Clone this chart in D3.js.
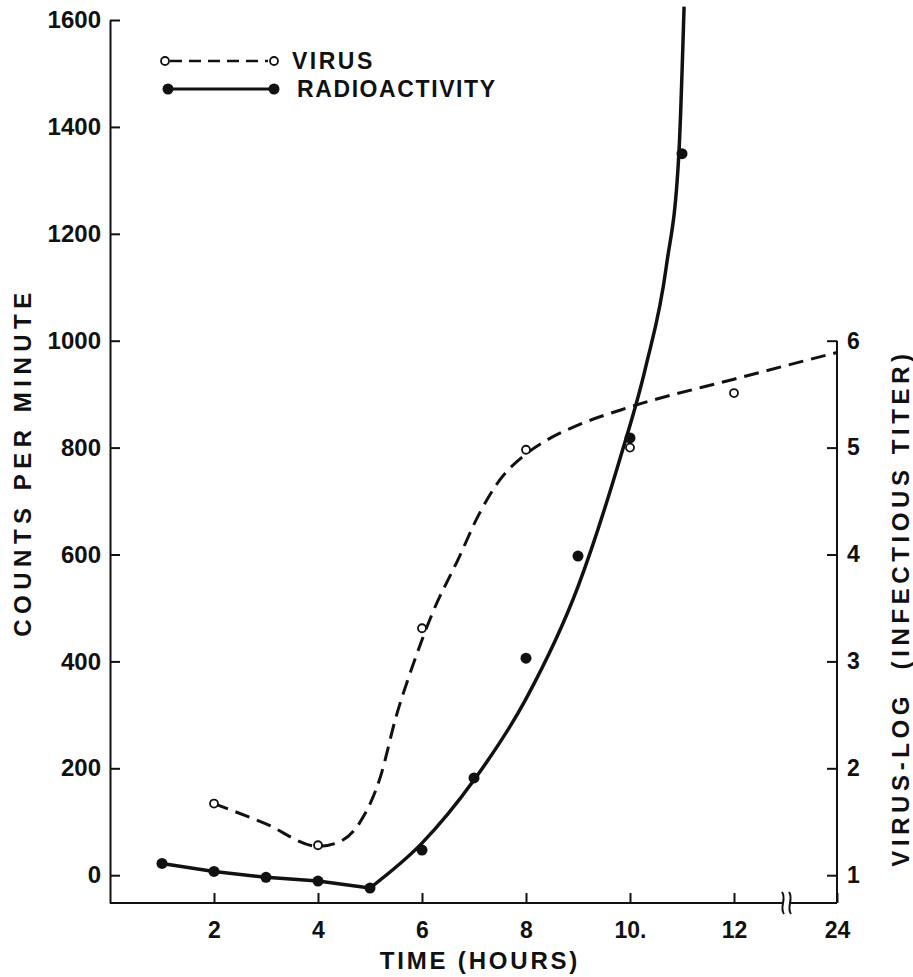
<!DOCTYPE html>
<html lang="en">
<head>
<meta charset="UTF-8">
<title>Virus and radioactivity</title>
<script src="https://d3js.org/d3.v7.min.js"></script>
<style>
    body { margin: 0; background: #fff; }
    svg { display: block; }
    text { font-family: "Liberation Sans", Arial, sans-serif; font-weight: bold; fill: #111; }
    .axis text { font-size: 23px; }
    .axis path, .axis line { stroke: #111; stroke-width: 2; }
</style>
</head>
<body>
<div id="chart"></div>
<script>
    // radioactivity, filled points
    const radioHours = [1, 2, 3, 4, 5, 6, 7, 8, 9, 10, 11];
    const radioCounts = [22, 7, -4, -11, -24, 47, 182, 406, 597, 818, 1350];

    // hand drawn fit through the radioactivity points
    const radioLineHours = [1, 2, 3, 4, 5];
    const radioLineCounts = [22, 7, -4, -11, -24];
    const radioFitHours = [5, 6, 7, 8, 9, 9.8, 10.3, 10.7, 10.94, 11.04];
    const radioFitCounts = [-24, 60, 178, 330, 540, 777, 950, 1140, 1350, 1625];

    // virus, open points (log titer)
    const virusHours = [2, 4, 6, 8, 10, 12];
    const virusLog = [1.67, 1.28, 3.31, 4.98, 5.0, 5.51];

    // dashed fit through the virus points
    const virusFitHours = [2, 3, 4, 4.4, 4.8, 5.2, 5.5, 5.85, 6.2, 6.7, 7.1, 7.5, 7.95, 8.4, 9, 10, 12, 24];
    const virusFitLog = [1.67, 1.48, 1.27, 1.31, 1.49, 1.92, 2.48, 3.0, 3.45, 3.96, 4.38, 4.7, 4.92, 5.07, 5.21, 5.38, 5.64, 5.89];

    // axes
    const xTicks = [2, 4, 6, 8, 10, 12, 24];
    const xTickLabels = ["2", "4", "6", "8", "10.", "12", "24"];
    const countTicks = [0, 200, 400, 600, 800, 1000, 1200, 1400, 1600];
    const logTicks = [1, 2, 3, 4, 5, 6];

    const width = 913, height = 977;

    // hours 13..24 are squeezed behind the axis break
    const x = d3.scaleLinear().domain([0, 13, 24]).range([110, 786, 837]);
    const y = d3.scaleLinear().domain([-52, 1600]).range([903, 20]);
    const yLog = d3.scaleLinear().domain([1, 6]).range([y(0), y(1000)]);

    const svg = d3.select("#chart").append("svg")
        .attr("width", width)
        .attr("height", height);

    svg.append("rect").attr("width", width).attr("height", height).attr("fill", "#fff");

    // left axis, ticks point inward
    svg.append("g")
        .attr("class", "axis")
        .attr("transform", `translate(${x(0)},0)`)
        .call(d3.axisLeft(y).tickValues(countTicks).tickFormat(d3.format("d"))
            .tickSizeInner(-10).tickSizeOuter(0).tickPadding(9))
        .call(g => g.selectAll("text").style("font-size", "24px"));

    // right axis
    svg.append("g")
        .attr("class", "axis")
        .attr("transform", `translate(${x(24)},0)`)
        .call(d3.axisRight(yLog).tickValues(logTicks).tickFormat(d3.format("d"))
            .tickSizeInner(-10).tickSizeOuter(0).tickPadding(10))
        .call(g => g.select(".domain").remove());
    svg.append("line")
        .attr("x1", x(24)).attr("x2", x(24))
        .attr("y1", y.range()[0]).attr("y2", yLog(6))
        .attr("stroke", "#111").attr("stroke-width", 2);

    // bottom axis with a break before 24
    svg.append("g")
        .attr("class", "axis")
        .attr("transform", `translate(0,${y.range()[0]})`)
        .call(d3.axisBottom(x).tickValues(xTicks).tickSizeInner(-10).tickSizeOuter(0).tickPadding(19)
            .tickFormat((d, i) => xTickLabels[i]))
        .call(g => g.select(".domain").remove());

    const y0 = y.range()[0];
    const brk = x(13);
    svg.append("line")
        .attr("x1", x(0)).attr("x2", brk - 3)
        .attr("y1", y0).attr("y2", y0)
        .attr("stroke", "#111").attr("stroke-width", 2);
    svg.append("line")
        .attr("x1", brk + 5).attr("x2", x(24))
        .attr("y1", y0).attr("y2", y0)
        .attr("stroke", "#111").attr("stroke-width", 2);
    [brk - 3, brk + 4].forEach(bx => {
        svg.append("path")
            .attr("d", `M${bx - 1},${y0 - 11} C${bx + 4},${y0 - 4} ${bx - 4},${y0 + 4} ${bx + 1},${y0 + 11}`)
            .attr("fill", "none").attr("stroke", "#111").attr("stroke-width", 2);
    });

    // lines
    const countLine = d3.line().x(d => x(d[0])).y(d => y(d[1]));
    const fitLine = d3.line().x(d => x(d[0])).y(d => y(d[1])).curve(d3.curveMonotoneX);
    const virusLine = d3.line().x(d => x(d[0])).y(d => yLog(d[1])).curve(d3.curveMonotoneX);

    svg.append("path")
        .datum(d3.zip(radioLineHours, radioLineCounts))
        .attr("d", countLine)
        .attr("fill", "none").attr("stroke", "#111").attr("stroke-width", 3.5);

    svg.append("path")
        .datum(d3.zip(radioFitHours, radioFitCounts))
        .attr("d", fitLine)
        .attr("fill", "none").attr("stroke", "#111").attr("stroke-width", 3.5);

    svg.append("path")
        .datum(d3.zip(virusFitHours, virusFitLog))
        .attr("d", virusLine)
        .attr("fill", "none").attr("stroke", "#111").attr("stroke-width", 3)
        .attr("stroke-dasharray", "15 8");

    // points
    svg.append("g").selectAll("circle")
        .data(d3.zip(radioHours, radioCounts))
        .join("circle")
        .attr("cx", d => x(d[0]))
        .attr("cy", d => y(d[1]))
        .attr("r", 5.5)
        .attr("fill", "#111");

    svg.append("g").selectAll("circle")
        .data(d3.zip(virusHours, virusLog))
        .join("circle")
        .attr("cx", d => x(d[0]))
        .attr("cy", d => yLog(d[1]))
        .attr("r", 4)
        .attr("fill", "#fff")
        .attr("stroke", "#111")
        .attr("stroke-width", 1.8);

    // legend
    const legend = svg.append("g");
    legend.append("line")
        .attr("x1", 170).attr("x2", 268).attr("y1", 61).attr("y2", 61)
        .attr("stroke", "#111").attr("stroke-width", 2.5).attr("stroke-dasharray", "12 7");
    [165, 274].forEach(cx => legend.append("circle")
        .attr("cx", cx).attr("cy", 61).attr("r", 4)
        .attr("fill", "#fff").attr("stroke", "#111").attr("stroke-width", 1.8));
    legend.append("line")
        .attr("x1", 168).attr("x2", 274).attr("y1", 89).attr("y2", 89)
        .attr("stroke", "#111").attr("stroke-width", 3);
    [168, 274].forEach(cx => legend.append("circle")
        .attr("cx", cx).attr("cy", 89).attr("r", 5.5).attr("fill", "#111"));
    legend.append("text")
        .attr("x", 292).attr("y", 69)
        .attr("font-size", 23).attr("letter-spacing", 2.5)
        .text("VIRUS");
    legend.append("text")
        .attr("x", 297).attr("y", 97)
        .attr("font-size", 23).attr("letter-spacing", 1.6)
        .text("RADIOACTIVITY");

    // axis titles
    svg.append("text")
        .attr("transform", "translate(31,462) rotate(-90)")
        .attr("text-anchor", "middle")
        .attr("font-size", 24).attr("letter-spacing", 5.5)
        .text("COUNTS PER MINUTE");

    svg.append("text")
        .attr("x", 480).attr("y", 969)
        .attr("text-anchor", "middle")
        .attr("font-size", 24).attr("letter-spacing", 2.8)
        .text("TIME (HOURS)");

    svg.append("text")
        .attr("transform", "translate(909,608) rotate(-90)")
        .attr("text-anchor", "middle")
        .attr("font-size", 24).attr("letter-spacing", 4.6)
        .style("white-space", "pre")
        .text("VIRUS-LOG  (INFECTIOUS TITER)");
</script>
</body>
</html>
